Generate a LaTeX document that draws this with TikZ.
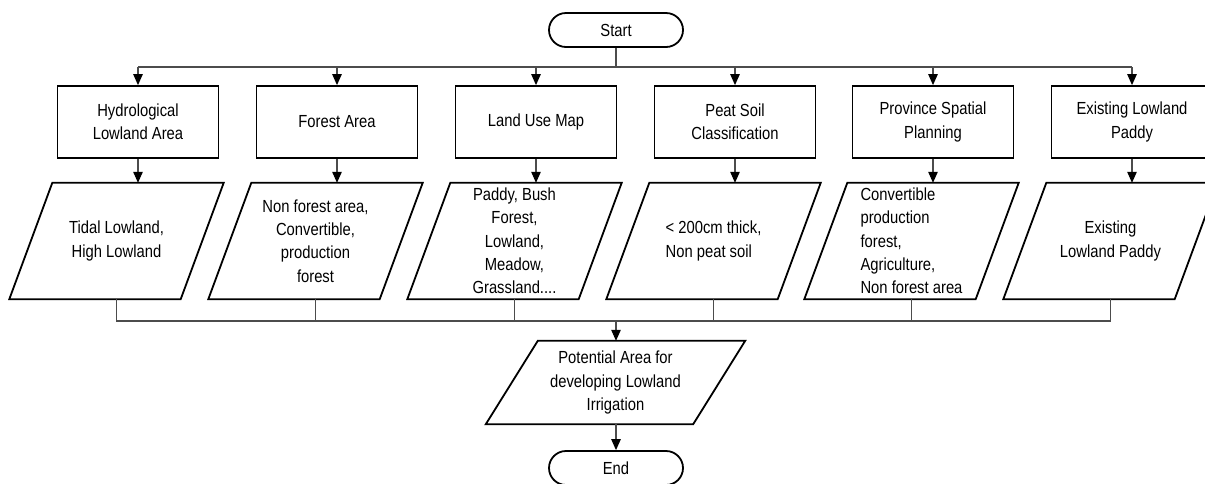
\documentclass[tikz,border=0pt]{standalone}
\usepackage{fontspec}
\setmainfont[FakeStretch=0.845]{Liberation Sans}
\usetikzlibrary{arrows.meta,calc}
\begin{document}
\begin{tikzpicture}[x=1pt,y=-1pt,
  every node/.style={font=\fontsize{17.5}{23.3}\selectfont, text=black},
  shapeline/.style={draw=black, line width=1.8pt},
  procbox/.style={shapeline, minimum width=161, minimum height=72, inner sep=0, align=center},
  databox/.style={minimum width=214, minimum height=116, inner sep=0, align=center},
  termbox/.style={shapeline, rounded corners=17, minimum width=134, minimum height=34, inner sep=0},
  conn/.style={draw=black!70, line width=1.1pt},
  arr/.style={conn, -{Triangle[length=11pt,width=9.5pt,color=black,fill=black]}},
]
\useasboundingbox (0,0) rectangle (1205,483);

% terminals
\node[termbox] (start) at (616,30) {Start};
\node[termbox] (end) at (616,468) {End};

% input layers
\node[procbox] (b1) at (138,122) {Hydrological\\Lowland Area};
\node[procbox] (b2) at (337,122) {Forest Area};
\node[procbox] (b3) at (536,122) {Land Use Map};
\node[procbox] (b4) at (735,122) {Peat Soil\\Classification};
\node[procbox] (b5) at (933,122) {Province Spatial\\Planning};
\node[procbox] (b6) at (1132,122) {Existing Lowland\\Paddy};

% selection criteria
\node[databox] (d1) at (116.5,241) {Tidal Lowland,\\High Lowland};
\node[databox] (d2) at (315.5,241) {Non forest area,\\Convertible,\\production\\forest};
\node[databox] (d3) at (514.5,241) {Paddy, Bush\\Forest,\\Lowland,\\Meadow,\\Grassland....};
\node[databox, align=left] (d4) at (713.5,241) {< 200cm thick,\\Non peat soil};
\node[databox, align=left] (d5) at (911.5,241) {Convertible\\production\\forest,\\Agriculture,\\Non forest area};
\node[databox] (d6) at (1110.5,241) {Existing\\Lowland Paddy};

% result
\node[databox, minimum width=259, minimum height=83] (pot) at (615.5,382.5) {Potential Area for\\developing Lowland\\Irrigation};

% parallelogram outlines of the data nodes
\foreach \n/\s in {d1/43,d2/43,d3/43,d4/43,d5/43,d6/43,pot/52}
  \draw[shapeline] (\n.south west) -- ($(\n.north west)+(\s,0)$) -- (\n.north east) -- ($(\n.south east)+(-\s,0)$) -- cycle;

% distribution bus from Start
\coordinate (topbus) at (616,67);
\draw[conn] (start.south) -- (topbus);
\draw[conn] (b1.north |- topbus) -- (b6.north |- topbus);
\foreach \i in {1,...,6} {
  \draw[arr] (b\i.north |- topbus) -- (b\i.north);
  \draw[arr] (b\i.south) -- (b\i.south |- d\i.north);
}

% collecting bus to the result
\coordinate (bus) at (616,321);
\draw[conn] (d1.south) -- (d1.south |- bus) -- (d6.south |- bus) -- (d6.south);
\foreach \i in {2,...,5}
  \draw[conn] (d\i.south) -- (d\i.south |- bus);
\draw[arr] (bus) -- (bus |- pot.north);
\draw[arr] (end.north |- pot.south) -- (end.north);
\end{tikzpicture}
\end{document}
